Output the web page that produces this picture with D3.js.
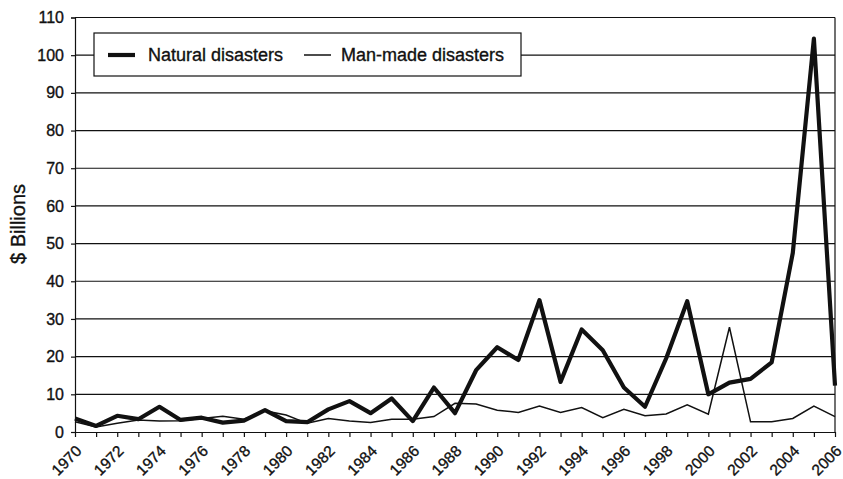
<!DOCTYPE html>
<html>
<head>
<meta charset="utf-8">
<script src="https://cdn.jsdelivr.net/npm/d3@7"></script>
<style>
    body { margin: 0; background: #fff; }
    svg { font-family: "Liberation Sans", Arial, sans-serif; }
    svg text { stroke: #111; stroke-width: 0.35px; }
</style>
</head>
<body>
<div id="plot-container"></div>
<script>
const years = [1970, 1971, 1972, 1973, 1974, 1975, 1976, 1977, 1978, 1979,
    1980, 1981, 1982, 1983, 1984, 1985, 1986, 1987, 1988, 1989,
    1990, 1991, 1992, 1993, 1994, 1995, 1996, 1997, 1998, 1999,
    2000, 2001, 2002, 2003, 2004, 2005, 2006];

const natural = [3.6, 1.6, 4.3, 3.4, 6.7, 3.2, 3.8, 2.5, 3.0, 5.8,
    2.9, 2.6, 6.0, 8.2, 5.0, 8.9, 2.9, 11.8, 5.0, 16.4,
    22.5, 19.1, 35.0, 13.3, 27.2, 21.7, 11.8, 6.7, 19.5, 34.7,
    10.0, 13.1, 14.1, 18.5, 47.5, 104.4, 12.3];

const manMade = [2.7, 1.3, 2.3, 3.2, 2.9, 3.0, 3.6, 4.2, 3.4, 5.6,
    4.5, 2.3, 3.6, 2.9, 2.5, 3.4, 3.4, 4.1, 7.6, 7.4,
    5.8, 5.2, 6.9, 5.2, 6.5, 3.8, 6.0, 4.3, 4.8, 7.2,
    4.7, 27.8, 2.7, 2.7, 3.6, 6.9, 4.1];

const yTicks = [0, 10, 20, 30, 40, 50, 60, 70, 80, 90, 100, 110];
const seriesNames = ["Natural disasters", "Man-made disasters"];

const margin = { top: 17.5, right: 8, bottom: 47, left: 75 };
const width = 843 - margin.left - margin.right;
const height = 479 - margin.top - margin.bottom;

const svg = d3.select("#plot-container")
    .append("svg")
    .attr("width", 843)
    .attr("height", 479)
    .append("g")
    .attr("transform", "translate(" + margin.left + "," + margin.top + ")");

const x = d3.scaleLinear().domain([1970, 2006]).range([0, width]);
const y = d3.scaleLinear().domain([0, 110]).range([height, 0]);

// gridlines
svg.selectAll(".grid")
    .data(yTicks.filter(d => d > 0))
    .enter()
    .append("line")
    .attr("x1", 0)
    .attr("x2", width)
    .attr("y1", d => y(d))
    .attr("y2", d => y(d))
    .attr("stroke", "#111")
    .attr("stroke-width", 1.2);

// right border
svg.append("line")
    .attr("x1", width).attr("x2", width)
    .attr("y1", 0).attr("y2", height)
    .attr("stroke", "#111")
    .attr("stroke-width", 1.2);

const yAxis = svg.append("g")
    .call(d3.axisLeft(y).tickValues(yTicks).tickSize(4).tickPadding(7));
yAxis.selectAll("text").style("font-size", "16px").attr("fill", "#111");
yAxis.selectAll("line, path").attr("stroke", "#111").attr("stroke-width", 1.2);

const xAxis = svg.append("g")
    .attr("transform", "translate(0," + height + ")")
    .call(d3.axisBottom(x)
        .tickValues(years)
        .tickSize(5)
        .tickSizeOuter(0)
        .tickFormat(d => d % 2 === 0 ? d : ""));
xAxis.selectAll("line, path").attr("stroke", "#111").attr("stroke-width", 1.2);
xAxis.selectAll("text")
    .style("font-size", "15.5px")
    .style("text-anchor", "end")
    .attr("fill", "#111")
    .attr("x", 0)
    .attr("y", 0)
    .attr("dy", 0)
    .attr("transform", "translate(7,20) rotate(-45)");

svg.append("text")
    .attr("text-anchor", "middle")
    .attr("transform", "translate(" + (18 - margin.left) + "," + (224 - margin.top) + ") rotate(-90)")
    .attr("dy", "0.35em")
    .style("font-size", "20px")
    .attr("fill", "#111")
    .text("$ Billions");

const line = d3.line()
    .x((d, i) => x(years[i]))
    .y(d => y(d));

svg.append("path")
    .datum(manMade)
    .attr("d", line)
    .attr("fill", "none")
    .attr("stroke", "#111")
    .attr("stroke-width", 1.5);

svg.append("path")
    .datum(natural)
    .attr("d", line)
    .attr("fill", "none")
    .attr("stroke", "#111")
    .attr("stroke-width", 4.2)
    .attr("stroke-linejoin", "round");

// legend
const legend = svg.append("g")
    .attr("transform", "translate(" + (94 - margin.left) + "," + (33 - margin.top) + ")");

legend.append("rect")
    .attr("width", 427)
    .attr("height", 43)
    .attr("fill", "#fff")
    .attr("stroke", "#111")
    .attr("stroke-width", 1.2);

const legendItems = [
    { name: seriesNames[0], width: 4.2, lx: 14, tx: 54 },
    { name: seriesNames[1], width: 1.5, lx: 210, tx: 247 }
];

legendItems.forEach(d => {
    legend.append("line")
        .attr("x1", d.lx).attr("x2", d.lx + 27)
        .attr("y1", 22).attr("y2", 22)
        .attr("stroke", "#111")
        .attr("stroke-width", d.width);
    legend.append("text")
        .attr("x", d.tx)
        .attr("y", 22)
        .attr("dy", "0.35em")
        .style("font-size", "18px")
        .attr("fill", "#111")
        .text(d.name);
});
</script>
</body>
</html>
